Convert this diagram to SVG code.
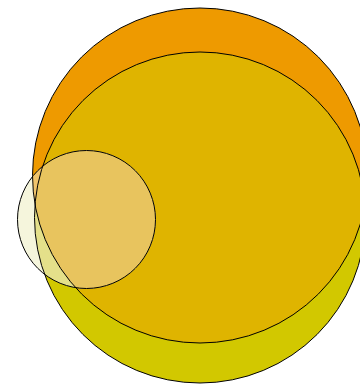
<svg xmlns="http://www.w3.org/2000/svg" width="360" height="385" viewBox="0 0 360 385">
<style>
.c{stroke:#000;stroke-width:1;}
</style>
<defs>
<clipPath id="clipA"><circle cx="200" cy="175.5" r="167.5"/></clipPath>
<clipPath id="clipC"><circle cx="86.5" cy="219.5" r="69"/></clipPath>
</defs>
<rect width="360" height="385" fill="#fff"/>
<g id="setA"><circle cx="200" cy="175.5" r="167.5" fill="#ee9a00"/></g>
<g id="setB"><circle cx="200" cy="217.5" r="165.5" fill="#d2c800"/></g>
<g id="setAB"><circle cx="200" cy="217.5" r="165.5" fill="#dfb400" clip-path="url(#clipA)"/></g>
<g id="setC" clip-path="url(#clipC)">
<rect x="0" y="140" width="170" height="160" fill="#f5f5dc"/>
<circle cx="200" cy="175.5" r="167.5" fill="#f0c46c"/>
<circle cx="200" cy="217.5" r="165.5" fill="#e4e08a"/>
<circle cx="200" cy="217.5" r="165.5" fill="#e8c45e" clip-path="url(#clipA)"/>
</g>
<g id="edges" fill="none" class="c">
<circle cx="200" cy="175.5" r="167.5"/>
<circle cx="200" cy="217.5" r="165.5"/>
<circle cx="86.5" cy="219.5" r="69"/>
</g>
</svg>
